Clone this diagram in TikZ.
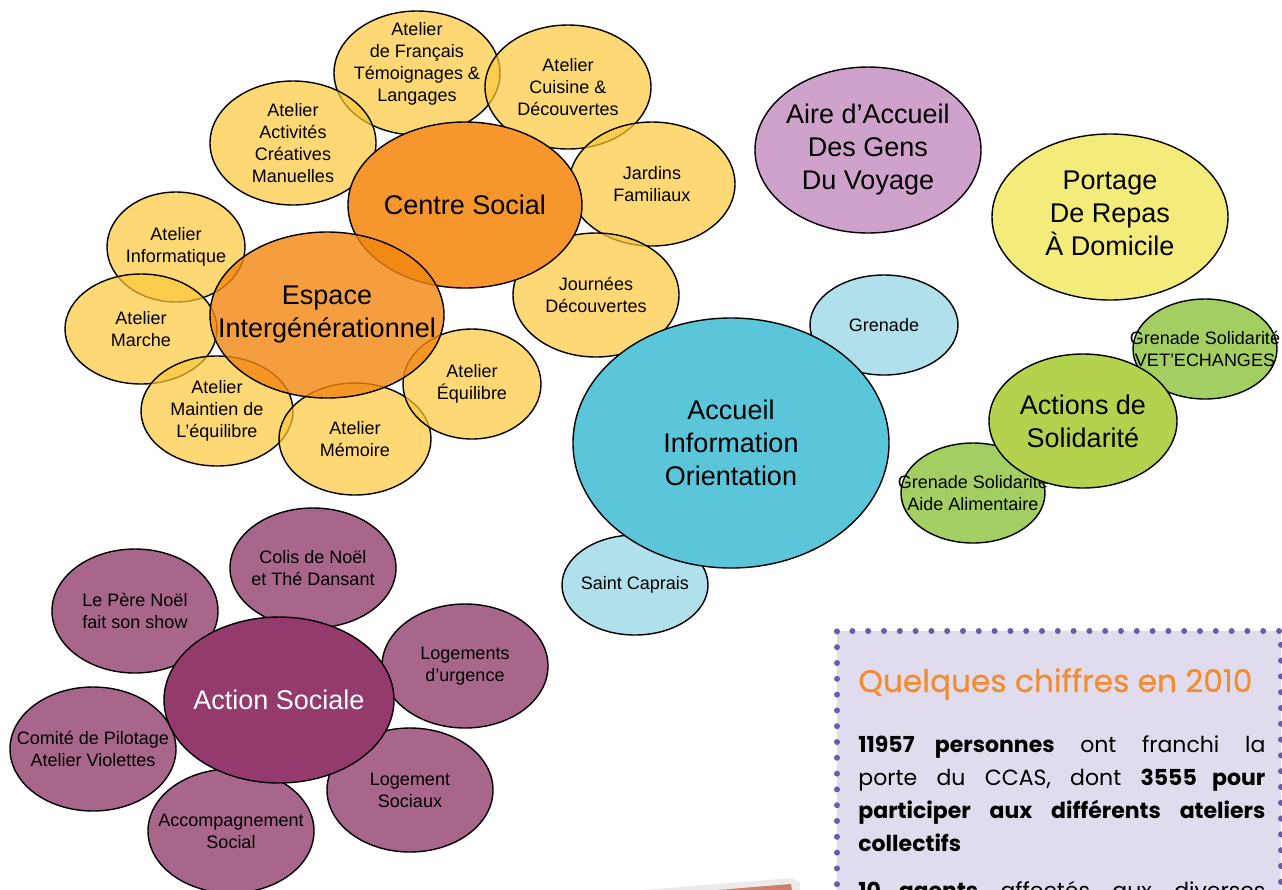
\documentclass[tikz,border=0pt]{standalone}
\usepackage{fontspec}
\setmainfont{Liberation Sans}
\newfontfamily\boxfont{Poppins}
\newfontfamily\titlefont[FakeBold=0.4]{Poppins}
\usetikzlibrary{shapes.geometric}

\definecolor{petalyellow}{RGB}{252,199,58}
\definecolor{centreorange}{RGB}{247,150,45}
\definecolor{espaceorange}{RGB}{243,134,16}
\definecolor{accueilblue}{RGB}{91,198,218}
\definecolor{paleblue}{RGB}{176,224,235}
\definecolor{airemauve}{RGB}{207,162,204}
\definecolor{portageyellow}{RGB}{243,236,123}
\definecolor{actionsgreen}{RGB}{179,211,79}
\definecolor{palegreen}{RGB}{163,206,98}
\definecolor{socialplum}{RGB}{149,58,109}
\definecolor{petalplum}{RGB}{168,103,138}
\definecolor{boxlavender}{RGB}{224,220,238}
\definecolor{boxdots}{RGB}{107,92,168}
\definecolor{titleorange}{RGB}{242,140,46}
\definecolor{salmon}{RGB}{207,127,107}

\tikzset{
  bubble/.style={ellipse, draw=black, line width=0.7pt, inner sep=0pt, outer sep=0pt},
  sz/.style 2 args={minimum width=#1pt, minimum height=#2pt},
  petal/.style={bubble, fill=petalyellow, fill opacity=0.7},
  txt/.style={font=\fontsize{9}{11}\selectfont, align=center, inner sep=0pt},
  bigtxt/.style={font=\fontsize{13.5}{16.5}\selectfont, align=center, inner sep=0pt},
}

\begin{document}
\begin{tikzpicture}[x=0.5pt, y=-0.5pt]
  \useasboundingbox (0,0) rectangle (1282,890);
  \clip (0,0) rectangle (1282,890);

  % Centre Social et ses ateliers
  \node[petal, sz={83}{62}, label={[txt, yshift=4.5pt]center:Atelier\\de Français\\Témoignages \&\\Langages}] (francais) at (417,73) {};
  \node[petal, sz={83}{62}, label={[txt]center:Atelier\\Cuisine \&\\Découvertes}] (cuisine) at (568,87) {};
  \node[petal, sz={83}{62}, label={[txt]center:Atelier\\Activités\\Créatives\\Manuelles}] (activites) at (293,143) {};
  \node[petal, sz={83}{62}, label={[txt]center:Jardins\\Familiaux}] (jardins) at (652,184) {};
  \node[petal, sz={83}{62}, label={[txt]center:Journées\\Découvertes}] (journees) at (596,295) {};

  % Espace Intergénérationnel et ses ateliers
  \node[petal, sz={69}{55}, label={[txt]center:Atelier\\Informatique}] (informatique) at (176,247) {};
  \node[petal, sz={76}{55}, label={[txt]center:Atelier\\Marche}] (marche) at (141,329) {};
  \node[petal, sz={76}{55}, label={[txt]center:Atelier\\Maintien de\\L’équilibre}] (maintien) at (217,411) {};
  \node[petal, sz={76}{56}, label={[txt]center:Atelier\\Mémoire}] (memoire) at (355,439) {};
  \node[petal, sz={69}{55}, label={[txt]center:Atelier\\Équilibre}] (equilibre) at (472,384) {};

  \node[bubble, fill=centreorange, sz={117}{83}, label={[bigtxt]center:Centre Social}] (centre) at (465,205) {};
  \node[bubble, fill=espaceorange, fill opacity=0.8, sz={117}{83}, label={[bigtxt]center:Espace\\Intergénérationnel}] (espace) at (327,315) {};

  % Accueil
  \node[bubble, fill=paleblue, sz={74}{50}, label={[txt]center:Grenade}] (grenade) at (884,325) {};
  \node[bubble, fill=paleblue, sz={73}{50}, label={[txt]center:Saint Caprais}] (caprais) at (635,585) {};
  \node[bubble, fill=accueilblue, sz={158}{125}, label={[bigtxt]center:Accueil\\Information\\Orientation}] (accueil) at (731,443) {};

  \node[bubble, fill=airemauve, sz={113}{83}, label={[bigtxt]center:Aire d’Accueil\\Des Gens\\Du Voyage}] (aire) at (868,150) {};
  \node[bubble, fill=portageyellow, sz={118}{83}, label={[bigtxt, yshift=2pt]center:Portage\\De Repas\\À Domicile}] (portage) at (1110,217) {};

  % Solidarite
  \node[bubble, fill=palegreen, sz={72}{50}, label={[txt]center:Grenade Solidarité\\VET’ECHANGES}] (vet) at (1205,349) {};
  \node[bubble, fill=palegreen, sz={72}{50}, label={[txt]center:Grenade Solidarité\\Aide Alimentaire}] (alimentaire) at (973,493) {};
  \node[bubble, fill=actionsgreen, sz={94}{67}, label={[bigtxt]center:Actions de\\Solidarité}] (actions) at (1083,421) {};

  % Action Sociale
  \node[bubble, fill=petalplum, sz={83}{60}, label={[txt]center:Colis de Noël\\et Thé Dansant}] (colis) at (313,568) {};
  \node[bubble, fill=petalplum, sz={83}{62}, label={[txt]center:Le Père Noël\\fait son show}] (perenoel) at (135,611) {};
  \node[bubble, fill=petalplum, sz={83}{62}, label={[txt]center:Logements\\d’urgence}] (urgence) at (465,666) {};
  \node[bubble, fill=petalplum, sz={83}{62}, label={[txt]center:Comité de Pilotage\\Atelier Violettes}] (comite) at (93,749) {};
  \node[bubble, fill=petalplum, sz={83}{62}, label={[txt]center:Logement\\Sociaux}] (sociaux) at (410,790) {};
  \node[bubble, fill=petalplum, sz={83}{62}, label={[txt]center:Accompagnement\\Social}] (accompagnement) at (231,831) {};
  \node[bubble, fill=socialplum, sz={115}{83}, label={[bigtxt, text=white]center:Action Sociale}] (social) at (279,700) {};

  % encadre chiffres
  \fill[boxlavender] (837,631) rectangle (1281,900);
  \draw[boxdots, line width=3pt, line cap=round, dash pattern=on 0pt off 7.9pt] (837,900) -- (837,631) -- (1281,631) -- (1281,900);
  \node[anchor=base west, inner sep=0pt, text=titleorange, font=\titlefont\fontsize{15.6}{18}\selectfont] (titre) at (858,692) {Quelques chiffres en 2010};
  \node[anchor=base west, inner sep=0pt, text width=203.5pt, align=justify, font=\boxfont\fontsize{11}{16.5}\selectfont] (chiffres) at (858,752)
    {\textbf{11957 personnes} ont franchi la\linebreak porte du CCAS, dont \textbf{3555 pour}\linebreak \textbf{participer aux différents ateliers}\linebreak \textbf{collectifs}\par\vspace{7pt}
     \textbf{10 agents} affectés aux diverses\linebreak};

  % bord de la feuille saumon
  \fill[black, opacity=0.08] (630,891) -- (792,878) -- (800,882) -- (800,891) -- cycle;
  \fill[salmon] (705,891) -- (791,884) -- (792,891) -- cycle;
\end{tikzpicture}
\end{document}
